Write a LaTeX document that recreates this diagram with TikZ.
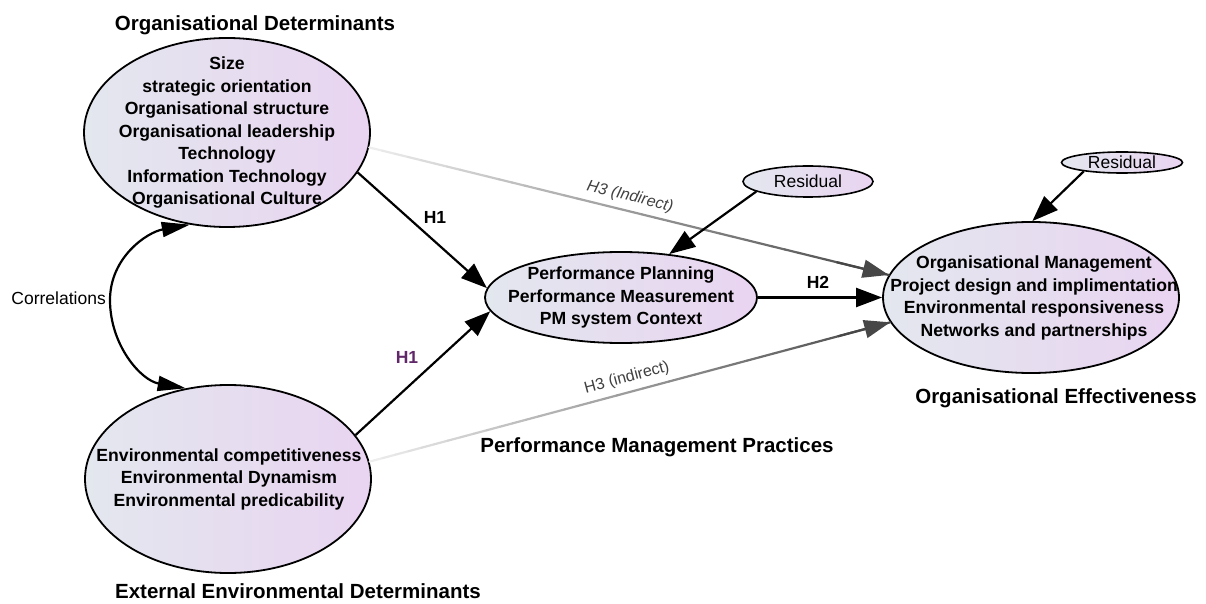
\documentclass[tikz,border=0pt]{standalone}
\usepackage{fontspec}
\setmainfont{Liberation Sans}
\usetikzlibrary{shapes.geometric,arrows.meta,calc}

\definecolor{fillL}{RGB}{227,231,238}
\definecolor{fillR}{RGB}{233,212,241}
\definecolor{hpurple}{RGB}{96,40,104}

\tikzset{
  latent/.style={ellipse, draw=black, line width=1.8pt, inner sep=0pt,
    left color=fillL, right color=fillR},
  inner/.style={align=center, inner sep=0pt,
    font=\fontsize{17.6}{22.5}\selectfont\bfseries},
  title/.style={inner sep=0pt, font=\fontsize{20.5}{24}\selectfont\bfseries},
  plain/.style={inner sep=0pt, font=\fontsize{17.5}{20}\selectfont},
  hlab/.style={inner sep=0pt, font=\fontsize{17.5}{20}\selectfont\bfseries},
  h3lab/.style={inner sep=0pt, text=black!75, font=\fontsize{16}{19}\selectfont},
  arr/.style={-{Triangle[length=26pt,width=19pt]}, line width=2.2pt},
  corr/.style={{Triangle[length=28pt,width=15pt]}-{Triangle[length=28pt,width=15pt]}, line width=2.2pt},
}

% a connector whose gray deepens from start to end, with a gray arrowhead
\newcommand\fadedlink[2]{%
  \foreach \k in {1,...,40}{%
    \pgfmathtruncatemacro\graylevel{6+66*\k/40}%
    \draw[line width=2.2pt, line cap=round, draw=black!\graylevel]
      ($(#1)!{(\k-1)/40}!(#2)$) -- ($(#1)!{\k/40}!(#2)$);
  }%
  \draw[-{Triangle[length=26pt,width=18pt]}, line width=2.2pt, draw=black!72, fill=black!72]
    ($(#1)!0.9!(#2)$) -- (#2);
}

\begin{document}
\begin{tikzpicture}[x=1pt,y=1pt]
\useasboundingbox (0,0) rectangle (1206,603);

% latent variables
\node[latent, minimum width=286pt, minimum height=189pt] (org) at (227,470.5) {};
\node[latent, minimum width=286pt, minimum height=188pt] (ext) at (228,124) {};
\node[latent, minimum width=272pt, minimum height=91pt]  (pm)  at (621,305.5) {};
\node[latent, minimum width=296pt, minimum height=151pt] (eff) at (1031,305.5) {};
\node[latent, minimum width=130pt, minimum height=31pt, line width=1.6pt] (res1) at (808,421.5) {};
\node[latent, minimum width=121pt, minimum height=21pt, line width=1.6pt] (res2) at (1122,440.5) {};

% indirect paths
\coordinate (h3aS) at (org.-6.5);
\coordinate (h3aE) at (eff.171);
\coordinate (h3bS) at (ext.7.6);
\coordinate (h3bE) at (eff.190);
\fadedlink{h3aS}{h3aE}
\fadedlink{h3bS}{h3bE}

% texts inside the ellipses
\node[inner] (orgtxt) at (227,470.5) {Size\\strategic orientation\\Organisational structure\\Organisational leadership\\Technology\\Information Technology\\Organisational Culture};
\node[inner] (exttxt) at (229,124) {Environmental competitiveness\\Environmental Dynamism\\Environmental predicability};
\node[inner] (pmtxt) at (621,305.5) {Performance Planning\\Performance Measurement\\PM system Context};
\node[inner] (efftxt) at (1034,305) {Organisational Management\\Project design and implimentation\\Environmental responsiveness\\Networks and partnerships};
\node[plain] (res1txt) at (808,421.5) {Residual};
\node[plain] (res2txt) at (1122,440.5) {Residual};

% titles
\node[title] (orgtitle) at (255,578) {Organisational Determinants};
\node[title] (exttitle) at (298,12) {External Environmental Determinants};
\node[title] (pmtitle)  at (657,156) {Performance Management Practices};
\node[title] (efftitle) at (1056,205) {Organisational Effectiveness};

% direct paths
\draw[arr] (org.-17) -- (pm.176);
\draw[arr] (ext.19) -- (pm.186);
\draw[arr] (pm.east) -- (eff.west);
\draw[arr] (res1.191) -- (pm.42);
\draw[arr] (res2.193) -- (eff.89);

% correlation between the determinants
\coordinate (cmid) at (110,303);
\draw[corr] (org.248) to[out=190,in=90] (cmid) to[out=270,in=170] (ext.115);
\node[plain, anchor=east] (corrlab) at (106,305) {Correlations};

% path labels
\node[hlab] (h1a) at (435,386) {H1};
\node[hlab, text=hpurple] (h1b) at (407,246) {H1};
\node[hlab] (h2) at (818,321) {H2};
\node[h3lab, rotate=-13.5] (h3a) at (630,406) {\itshape H3 (Indirect)};
\node[h3lab, rotate=15] (h3b) at (627,225) {H3 (indirect)};
\end{tikzpicture}
\end{document}
